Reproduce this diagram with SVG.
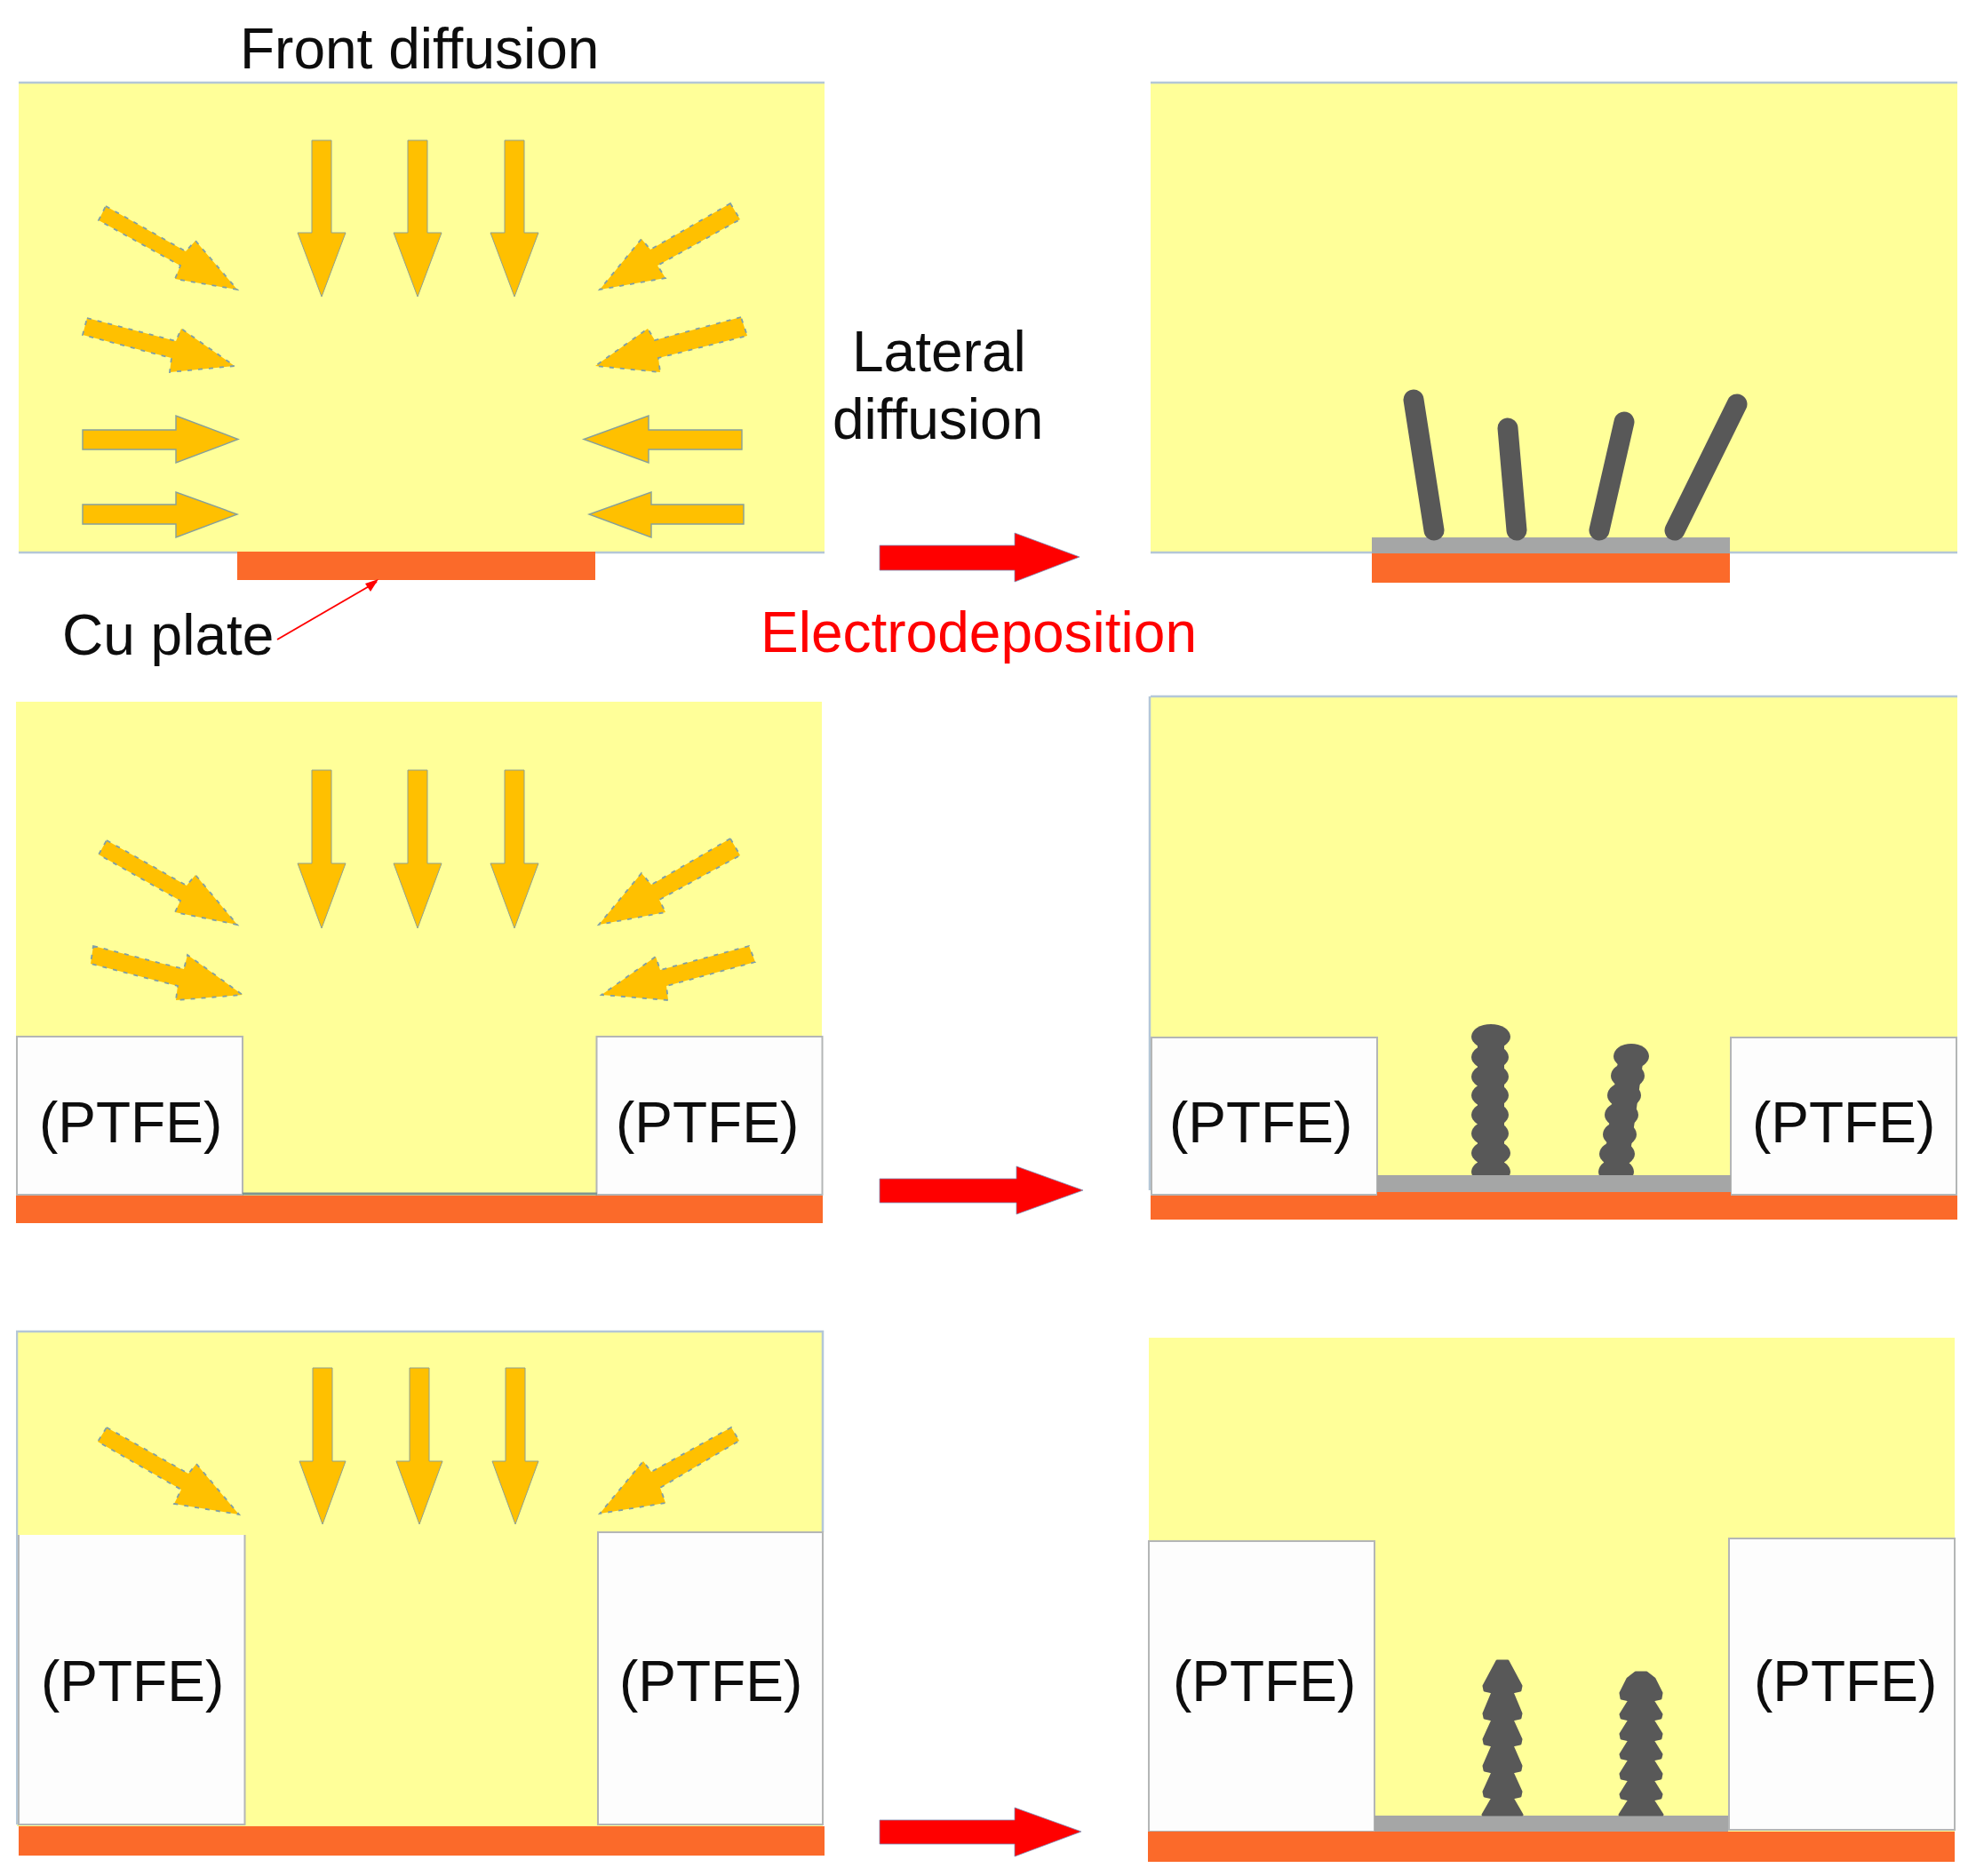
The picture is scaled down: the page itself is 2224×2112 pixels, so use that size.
<svg xmlns="http://www.w3.org/2000/svg" width="2224" height="2112" viewBox="0 0 2224 2112">
<defs>
<style>
.y{fill:#FFFF99}
.cu{fill:#FB6A2A}
.gr{fill:#A5A6A6}
.pt{fill:#FDFDFD;stroke:#B4B6B6;stroke-width:2}
.edge{stroke:#B4C7D7;stroke-width:2.500;fill:none}
.ar{fill:#FFC000;stroke:#7F9FA8;stroke-width:1.800;stroke-dasharray:5 7}
.ah{fill:#FFC000;stroke:#86A09C;stroke-width:1.400}
.av{fill:#FFC000;stroke:#8FA090;stroke-width:1}
.ra{fill:#FF0000;stroke:#7F8FB8;stroke-width:.8}
.rod{fill:none;stroke:#595959;stroke-width:23;stroke-linecap:round}
.sc{fill:#595959}
.bump{fill:#595959;stroke:#595959;stroke-width:3;stroke-linejoin:round}
text{font-family:"Liberation Sans",Arial,sans-serif;font-size:64px;fill:#0a0a0a}
.red{fill:#FF0000}
</style>
<clipPath id="c2"><rect x="1600" y="1100" width="300" height="223"/></clipPath>
<filter id="soft" x="0" y="0" width="100%" height="100%"><feGaussianBlur stdDeviation="0.7"/></filter>
</defs>
<rect width="2224" height="2112" fill="#FFFFFF"/>
<g filter="url(#soft)">

<g id="panel-a1">
<rect class="y" x="21" y="93" width="907" height="529"/>
<path class="edge" d="M21 93H928M21 622H267M670 622H928"/>
<rect class="cu" x="267" y="621" width="403" height="32"/>
<polygon class="av" points="351,158 373,158 373,262 389,262 362,334 335,262 351,262"/>
<polygon class="av" points="459,158 481,158 481,262 497,262 470,334 443,262 459,262"/>
<polygon class="av" points="568,158 590,158 590,262 606,262 579,334 552,262 568,262"/>
<polygon class="ar" points="119,232 209,283 220,271 267,326 197,314 203,299 111,248"/>
<polygon class="ar" points="98,358 198,384 204,370 264,412 191,419 193,403 93,377"/>
<polygon class="ah" points="93,484 198,484 198,468 268,494.500 198,521 198,506 93,506"/>
<polygon class="ah" points="93,568 198,568 198,554 267,579 198,605 198,590 93,590"/>
<polygon class="ar" points="822,229 732,281 722,269 675,326 749,313 740,299 833,247"/>
<polygon class="ar" points="834,357 737,383 729,370 670,412 743,419 741,403 841,378"/>
<polygon class="ah" points="835,484 730,484 730,468 657,494.500 730,521 730,506 835,506"/>
<polygon class="ah" points="837,568 733,568 733,554 663,579 733,605 733,590 837,590"/>
<text x="270" y="77">Front diffusion</text>
<text x="70" y="737">Cu plate</text>
<path d="M312 720L424 655" stroke="#FF0000" stroke-width="2" fill="none"/>
<polygon class="red" points="426,652 417,666 411,657"/>
</g>

<g id="panel-b1">
<rect class="y" x="1295" y="93" width="908" height="529"/>
<path class="edge" d="M1295 93H2203M1295 622H1544M1947 622H2203"/>
<rect class="gr" x="1544" y="605" width="403" height="18"/>
<rect class="cu" x="1544" y="623" width="403" height="33"/>
<path class="rod" d="M1591 450L1614 597"/>
<path class="rod" d="M1697 482L1707 597"/>
<path class="rod" d="M1828 475L1800 597"/>
<path class="rod" d="M1955 455L1885 597"/>
</g>

<g id="panel-a2">
<rect class="y" x="18" y="790" width="907" height="556"/>
<rect class="pt" x="19" y="1167" width="254" height="178"/>
<rect class="pt" x="671.500" y="1167" width="254" height="178"/>
<path d="M273 1344H672" stroke="#7E9590" stroke-width="3"/>
<rect class="cu" x="18" y="1346" width="908" height="31"/>
<polygon class="av" points="351,867 373,867 373,972 389,972 362,1045 335,972 351,972"/>
<polygon class="av" points="459,867 481,867 481,972 497,972 470,1045 443,972 459,972"/>
<polygon class="av" points="568,867 590,867 590,972 606,972 579,1045 552,972 568,972"/>
<polygon class="ar" points="120,946 210,997 220,985 267,1041 197,1027 203,1014 111,962"/>
<polygon class="ar" points="105,1065 207,1091 211,1075 273,1120 198,1126 200,1110 102,1085"/>
<polygon class="ar" points="822,944 733,996 722,983 674,1041 749,1027 742,1013 833,963"/>
<polygon class="ar" points="843,1065 743,1092 738,1077 677,1120 752,1126 750,1110 850,1083"/>
<text x="44" y="1286">(PTFE)</text>
<text x="693" y="1286">(PTFE)</text>
</g>

<g id="panel-b2">
<rect class="y" x="1295" y="784" width="908" height="560"/>
<path class="edge" d="M1294 784V1340M1295 784H2203"/>
<rect class="pt" x="1296" y="1168" width="254" height="177"/>
<rect class="pt" x="1948" y="1168" width="254" height="177"/>
<rect class="gr" x="1550" y="1323" width="398" height="19"/>
<rect class="cu" x="1295" y="1346" width="908" height="27"/>
<rect class="cu" x="1550" y="1342" width="398" height="4"/>
<g clip-path="url(#c2)" class="sc">
<rect x="1663" y="1165" width="30" height="160"/>
<path d="M1836 1189L1817 1325" stroke="#595959" stroke-width="28" fill="none"/>
<ellipse cx="1678" cy="1167" rx="22" ry="14"/><ellipse cx="1677" cy="1190" rx="21" ry="14"/><ellipse cx="1677" cy="1212" rx="21" ry="14"/><ellipse cx="1677" cy="1233" rx="21" ry="14"/><ellipse cx="1677" cy="1255" rx="21" ry="14"/><ellipse cx="1677" cy="1276" rx="21" ry="14"/><ellipse cx="1678" cy="1298" rx="22" ry="14"/><ellipse cx="1678" cy="1319" rx="22" ry="14"/>
<ellipse cx="1836" cy="1189" rx="20" ry="14"/><ellipse cx="1832" cy="1211" rx="19" ry="14"/><ellipse cx="1828" cy="1233" rx="19" ry="14"/><ellipse cx="1825" cy="1255" rx="19" ry="14"/><ellipse cx="1823" cy="1277" rx="19" ry="14"/><ellipse cx="1820" cy="1299" rx="20" ry="14"/><ellipse cx="1819" cy="1319" rx="20" ry="14"/>
</g>
<text x="1316" y="1286">(PTFE)</text>
<text x="1972" y="1286">(PTFE)</text>
</g>

<g id="panel-a3">
<rect class="y" x="19" y="1499" width="907" height="557"/>
<path class="edge" d="M19 2054V1499H926V1725"/>
<rect x="21" y="1728" width="254.500" height="326" fill="#FDFDFD"/>
<path d="M21 1728V2054H275.500V1728" fill="none" stroke="#B4B6B6" stroke-width="2"/>
<rect class="pt" x="673" y="1725" width="253" height="329"/>
<rect class="cu" x="21" y="2056" width="907" height="33"/>
<polygon class="av" points="352,1540 374,1540 374,1645 389,1645 363,1716 337,1645 352,1645"/>
<polygon class="av" points="461,1540 483,1540 483,1645 498,1645 472,1716 446,1645 461,1645"/>
<polygon class="av" points="569,1540 591,1540 591,1645 606,1645 580,1716 554,1645 569,1645"/>
<polygon class="ar" points="120,1607 212,1659 221,1648 269,1705 196,1693 204,1677 110,1623"/>
<polygon class="ar" points="823,1607 733,1657 724,1645 675,1704 749,1692 743,1675 832,1622"/>
<text x="46" y="1915">(PTFE)</text>
<text x="697" y="1915">(PTFE)</text>
</g>

<g id="panel-b3">
<rect class="y" x="1293" y="1506" width="907" height="556"/>
<rect class="pt" x="1293" y="1735" width="254" height="327"/>
<rect class="pt" x="1946" y="1732" width="254" height="328"/>
<rect class="gr" x="1547" y="2044" width="398" height="19"/>
<rect class="cu" x="1292" y="2062" width="908" height="34"/>
<polygon class="bump" points="1697,1870 1712,1898 1711,1903 1702,1905 1712,1929 1711,1934 1702,1936 1712,1958 1711,1963 1702,1965 1712,1988 1711,1993 1702,1995 1712,2017 1711,2022 1702,2024 1713,2043 1669,2043 1680,2024 1671,2022 1670,2017 1680,1995 1671,1993 1670,1988 1680,1965 1671,1963 1670,1958 1680,1936 1671,1934 1670,1929 1680,1905 1671,1903 1670,1898 1685,1870"/>
<polygon class="bump" points="1853,1883 1862,1890 1870,1906 1869,1912 1860,1914 1870,1930 1869,1934 1860,1936 1870,1952 1869,1957 1860,1959 1870,1975 1869,1979 1860,1981 1870,1997 1869,2002 1860,2004 1870,2020 1869,2024 1860,2026 1871,2043 1823,2043 1834,2026 1825,2024 1824,2020 1834,2004 1825,2002 1824,1997 1834,1981 1825,1979 1824,1975 1834,1959 1825,1957 1824,1952 1834,1936 1825,1934 1824,1930 1834,1914 1825,1912 1824,1906 1832,1890 1841,1883"/>
<text x="1320" y="1915">(PTFE)</text>
<text x="1974" y="1915">(PTFE)</text>
</g>

<g id="connectors">
<polygon class="ra" points="990,614 1142,614 1142,600 1215,627 1142,655 1142,642 990,642"/>
<polygon class="ra" points="990,1327 1144,1327 1144,1313 1219,1340 1144,1367 1144,1354 990,1354"/>
<polygon class="ra" points="990,2049 1142,2049 1142,2035 1217,2062 1142,2090 1142,2076 990,2076"/>
</g>

<g id="labels">
<text x="959" y="418">Lateral</text>
<text x="937" y="494">diffusion</text>
<text class="red" x="856" y="734">Electrodeposition</text>
</g>
</g>
</svg>
